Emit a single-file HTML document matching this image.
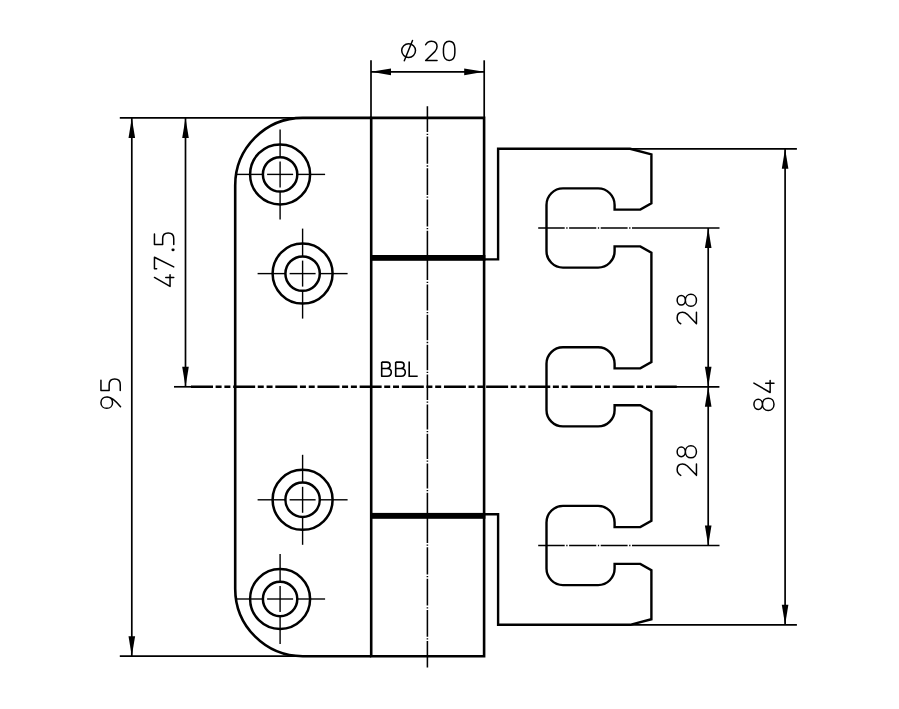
<!DOCTYPE html>
<html><head><meta charset="utf-8"><title>Hinge drawing</title>
<style>
html,body{margin:0;padding:0;background:#fff;}
body{width:899px;height:709px;overflow:hidden;font-family:"Liberation Sans",sans-serif;}
svg{display:block;}
</style></head><body>
<svg width="899" height="709" viewBox="0 0 899 709" fill="none" stroke="#000">
<rect x="0" y="0" width="899" height="709" fill="#fff" stroke="none"/>
<line x1="119.80" y1="117.90" x2="302.00" y2="117.90" stroke-width="1.7" />
<line x1="119.80" y1="656.20" x2="302.00" y2="656.20" stroke-width="1.7" />
<line x1="174.00" y1="386.80" x2="192.00" y2="386.80" stroke-width="1.7" />
<line x1="131.80" y1="117.90" x2="131.80" y2="656.20" stroke-width="1.7" />
<polygon points="131.80,117.90 135.10,137.90 128.50,137.90" fill="#000" stroke="none"/>
<polygon points="131.80,656.20 128.50,636.20 135.10,636.20" fill="#000" stroke="none"/>
<line x1="185.50" y1="117.90" x2="185.50" y2="386.80" stroke-width="1.7" />
<polygon points="185.50,117.90 188.80,137.90 182.20,137.90" fill="#000" stroke="none"/>
<polygon points="185.50,386.80 182.20,366.80 188.80,366.80" fill="#000" stroke="none"/>
<line x1="371.00" y1="60.30" x2="371.00" y2="117.90" stroke-width="1.7" />
<line x1="484.20" y1="60.30" x2="484.20" y2="117.90" stroke-width="1.7" />
<line x1="371.00" y1="71.85" x2="484.20" y2="71.85" stroke-width="1.7" />
<polygon points="371.00,71.85 391.00,68.55 391.00,75.15" fill="#000" stroke="none"/>
<polygon points="484.20,71.85 464.20,75.15 464.20,68.55" fill="#000" stroke="none"/>
<line x1="630.00" y1="148.80" x2="796.90" y2="148.80" stroke-width="1.7" />
<line x1="630.00" y1="624.80" x2="796.90" y2="624.80" stroke-width="1.7" />
<line x1="785.10" y1="148.80" x2="785.10" y2="624.80" stroke-width="1.7" />
<polygon points="785.10,148.80 788.40,168.80 781.80,168.80" fill="#000" stroke="none"/>
<polygon points="785.10,624.80 781.80,604.80 788.40,604.80" fill="#000" stroke="none"/>
<line x1="708.20" y1="228.00" x2="708.20" y2="545.50" stroke-width="1.7" />
<polygon points="708.20,228.00 711.50,248.00 704.90,248.00" fill="#000" stroke="none"/>
<polygon points="708.20,386.80 704.90,366.80 711.50,366.80" fill="#000" stroke="none"/>
<polygon points="708.20,386.80 711.50,406.80 704.90,406.80" fill="#000" stroke="none"/>
<polygon points="708.20,545.50 704.90,525.50 711.50,525.50" fill="#000" stroke="none"/>
<line x1="676.00" y1="386.80" x2="719.40" y2="386.80" stroke-width="1.7" />
<path d="M538.20,228.0 L564.70,228.0 M566.25,228.0 L567.55,228.0 M569.10,228.0 L596.30,228.0 M597.85,228.0 L599.15,228.0 M600.70,228.0 L627.60,228.0 M629.15,228.0 L630.45,228.0 M632.00,228.0 L719.50,228.0" stroke-width="1.7" />
<path d="M538.20,545.5 L564.70,545.5 M566.25,545.5 L567.55,545.5 M569.10,545.5 L596.30,545.5 M597.85,545.5 L599.15,545.5 M600.70,545.5 L627.60,545.5 M629.15,545.5 L630.45,545.5 M632.00,545.5 L719.50,545.5" stroke-width="1.7" />
<line x1="191.00" y1="386.80" x2="676.80" y2="386.80" stroke-width="2.5" stroke-dasharray="22 2.6 6 2.8 6 2.76"/>
<path d="M427.4,106.30 L427.4,132.10 M427.4,133.65 L427.4,134.95 M427.4,136.50 L427.4,163.80 M427.4,165.35 L427.4,166.65 M427.4,168.20 L427.4,195.00 M427.4,196.55 L427.4,197.85 M427.4,199.40 L427.4,226.40 M427.4,227.95 L427.4,229.25 M427.4,230.80 L427.4,280.10 M427.4,281.65 L427.4,282.95 M427.4,284.50 L427.4,310.40 M427.4,311.95 L427.4,313.25 M427.4,314.80 L427.4,340.30 M427.4,341.85 L427.4,343.15 M427.4,344.70 L427.4,370.20 M427.4,371.75 L427.4,373.05 M427.4,374.60 L427.4,400.00 M427.4,401.55 L427.4,402.85 M427.4,404.40 L427.4,429.40 M427.4,430.95 L427.4,432.25 M427.4,433.80 L427.4,459.00 M427.4,460.55 L427.4,461.85 M427.4,463.40 L427.4,488.40 M427.4,489.95 L427.4,491.25 M427.4,492.80 L427.4,542.90 M427.4,544.45 L427.4,545.75 M427.4,547.30 L427.4,574.40 M427.4,575.95 L427.4,577.25 M427.4,578.80 L427.4,605.60 M427.4,607.15 L427.4,608.45 M427.4,610.00 L427.4,636.70 M427.4,638.25 L427.4,639.55 M427.4,641.10 L427.4,667.50" stroke-width="1.55" />
<path d="M371.2,117.9 L302.7,117.9 A67.5,67.5 0 0 0 235.2,185.4 L235.2,588.7 A67.5,67.5 0 0 0 302.7,656.2 L371.2,656.2" stroke-width="2.6" />
<path d="M371.2,117.9 L484.1,117.9 L484.1,656.2 L371.2,656.2 Z" stroke-width="2.6" />
<rect x="370.0" y="255.0" width="115.40" height="5.8" fill="#000" stroke="none"/>
<rect x="370.0" y="512.9" width="115.40" height="5.9" fill="#000" stroke="none"/>
<path d="M484.1,259.4 L498.1,259.4 L498.1,148.8 L630.1,148.8 L651.4,154.4 L651.4,203.29999999999998 L640.3,209.6 L614.6,209.6 L614.6,204.9 A16.5,16.5 0 0 0 598.1,188.4 L563.0,188.4 A16.5,16.5 0 0 0 546.5,204.9 L546.5,251.10000000000002 A16.5,16.5 0 0 0 563.0,267.6 L598.1,267.6 A16.5,16.5 0 0 0 614.6,251.10000000000002 L614.6,246.4 L640.3,246.4 L651.4,252.70000000000002 L651.4,362.1 L640.3,368.40000000000003 L614.6,368.40000000000003 L614.6,363.7 A16.5,16.5 0 0 0 598.1,347.2 L563.0,347.2 A16.5,16.5 0 0 0 546.5,363.7 L546.5,409.90000000000003 A16.5,16.5 0 0 0 563.0,426.40000000000003 L598.1,426.40000000000003 A16.5,16.5 0 0 0 614.6,409.90000000000003 L614.6,405.2 L640.3,405.2 L651.4,411.5 L651.4,520.8000000000001 L640.3,527.1 L614.6,527.1 L614.6,522.4 A16.5,16.5 0 0 0 598.1,505.9 L563.0,505.9 A16.5,16.5 0 0 0 546.5,522.4 L546.5,568.6 A16.5,16.5 0 0 0 563.0,585.1 L598.1,585.1 A16.5,16.5 0 0 0 614.6,568.6 L614.6,563.9 L640.3,563.9 L651.4,570.1999999999999 L651.4,619.1999999999999 L630.1,624.8 L498.1,624.8 L498.1,514.3 L484.1,514.3" stroke-width="2.4" stroke-linejoin="miter"/>
<circle cx="280.1" cy="174.4" r="30.0" stroke-width="2.5"/>
<circle cx="280.1" cy="174.4" r="17.2" stroke-width="2.5"/>
<line x1="235.10" y1="174.40" x2="262.60" y2="174.40" stroke-width="1.4" />
<line x1="280.10" y1="129.40" x2="280.10" y2="156.90" stroke-width="1.4" />
<line x1="267.10" y1="174.40" x2="293.10" y2="174.40" stroke-width="1.4" />
<line x1="280.10" y1="161.40" x2="280.10" y2="187.40" stroke-width="1.4" />
<line x1="297.60" y1="174.40" x2="325.10" y2="174.40" stroke-width="1.4" />
<line x1="280.10" y1="191.90" x2="280.10" y2="219.40" stroke-width="1.4" />
<circle cx="302.6" cy="273.6" r="30.0" stroke-width="2.5"/>
<circle cx="302.6" cy="273.6" r="17.2" stroke-width="2.5"/>
<line x1="257.60" y1="273.60" x2="285.10" y2="273.60" stroke-width="1.4" />
<line x1="302.60" y1="228.60" x2="302.60" y2="256.10" stroke-width="1.4" />
<line x1="289.60" y1="273.60" x2="315.60" y2="273.60" stroke-width="1.4" />
<line x1="302.60" y1="260.60" x2="302.60" y2="286.60" stroke-width="1.4" />
<line x1="320.10" y1="273.60" x2="347.60" y2="273.60" stroke-width="1.4" />
<line x1="302.60" y1="291.10" x2="302.60" y2="318.60" stroke-width="1.4" />
<circle cx="302.6" cy="499.8" r="30.0" stroke-width="2.5"/>
<circle cx="302.6" cy="499.8" r="17.2" stroke-width="2.5"/>
<line x1="257.60" y1="499.80" x2="285.10" y2="499.80" stroke-width="1.4" />
<line x1="302.60" y1="454.80" x2="302.60" y2="482.30" stroke-width="1.4" />
<line x1="289.60" y1="499.80" x2="315.60" y2="499.80" stroke-width="1.4" />
<line x1="302.60" y1="486.80" x2="302.60" y2="512.80" stroke-width="1.4" />
<line x1="320.10" y1="499.80" x2="347.60" y2="499.80" stroke-width="1.4" />
<line x1="302.60" y1="517.30" x2="302.60" y2="544.80" stroke-width="1.4" />
<circle cx="280.1" cy="599.0" r="30.0" stroke-width="2.5"/>
<circle cx="280.1" cy="599.0" r="17.2" stroke-width="2.5"/>
<line x1="235.10" y1="599.00" x2="262.60" y2="599.00" stroke-width="1.4" />
<line x1="280.10" y1="554.00" x2="280.10" y2="581.50" stroke-width="1.4" />
<line x1="267.10" y1="599.00" x2="293.10" y2="599.00" stroke-width="1.4" />
<line x1="280.10" y1="586.00" x2="280.10" y2="612.00" stroke-width="1.4" />
<line x1="297.60" y1="599.00" x2="325.10" y2="599.00" stroke-width="1.4" />
<line x1="280.10" y1="616.50" x2="280.10" y2="644.00" stroke-width="1.4" />
<circle cx="408.6" cy="50.6" r="6.9" stroke-width="1.5"/>
<line x1="404.30" y1="60.70" x2="412.50" y2="40.50" stroke-width="1.5" stroke-linecap="round"/>
<path d="M0,3.6 C1.2,1.2 3.2,0 5.8,0 C9.2,0 11.4,2.2 11.4,5.4 C11.4,7.4 10.6,8.8 9.4,10.2 L0,19.3 L11.4,19.3" transform="translate(425.65,41.15)" stroke-width="1.5" stroke-linecap="round" stroke-linejoin="round"/>
<path d="M0,7.6 C0,2.9 2.2,0 5.7,0 C9.2,0 11.4,2.9 11.4,7.6 L11.4,11.7 C11.4,16.4 9.2,19.3 5.7,19.3 C2.2,19.3 0,16.4 0,11.7 Z" transform="translate(443.45,41.15)" stroke-width="1.5" stroke-linecap="round" stroke-linejoin="round"/>
<path d="M9.0,0 L0,15.6 L11.6,15.6 M9.0,11.3 L9.0,19.3" transform="translate(173.75,286.45) rotate(-90) scale(1.0) translate(0,-19.3)" stroke-width="1.500" stroke-linecap="round" stroke-linejoin="round"/>
<path d="M0,2.2 L0,0 L11.4,0 L1.7,19.3" transform="translate(173.75,268.65) rotate(-90) scale(1.0) translate(0,-19.3)" stroke-width="1.500" stroke-linecap="round" stroke-linejoin="round"/>
<path d="M1.0,18.3 L1.0,18.9" transform="translate(173.75,250.85) rotate(-90) scale(1.0) translate(0,-19.3)" stroke-width="2.600" stroke-linecap="round" stroke-linejoin="round"/>
<path d="M10.4,0 L0,0 L0,8.2 L5.8,8.2 C9.3,8.2 11.5,10.5 11.5,13.75 C11.5,17 9.3,19.3 5.8,19.3 L0,19.3" transform="translate(173.75,244.45) rotate(-90) scale(1.0) translate(0,-19.3)" stroke-width="1.500" stroke-linecap="round" stroke-linejoin="round"/>
<path d="M11.4,5.8 C11.4,9.1 9.0,11.6 5.7,11.6 C2.4,11.6 0,9.1 0,5.8 C0,2.5 2.4,0 5.7,0 C9.0,0 11.4,2.5 11.4,5.8 L11.4,6.8 C11.4,10.8 7,15.2 1.6,19.6" transform="translate(120.25,408.35) rotate(-90) scale(1.0) translate(0,-19.3)" stroke-width="1.500" stroke-linecap="round" stroke-linejoin="round"/>
<path d="M10.4,0 L0,0 L0,8.2 L5.8,8.2 C9.3,8.2 11.5,10.5 11.5,13.75 C11.5,17 9.3,19.3 5.8,19.3 L0,19.3" transform="translate(120.25,390.55) rotate(-90) scale(1.0) translate(0,-19.3)" stroke-width="1.500" stroke-linecap="round" stroke-linejoin="round"/>
<path d="M0,3.6 C1.2,1.2 3.2,0 5.8,0 C9.2,0 11.4,2.2 11.4,5.4 C11.4,7.4 10.6,8.8 9.4,10.2 L0,19.3 L11.4,19.3" transform="translate(696.45,323.75) rotate(-90) scale(1.0) translate(0,-19.3)" stroke-width="1.500" stroke-linecap="round" stroke-linejoin="round"/>
<path d="M5.7,8.2 C2.9,8.2 0.85,6.4 0.85,4.1 C0.85,1.8 2.9,0 5.7,0 C8.5,0 10.55,1.8 10.55,4.1 C10.55,6.4 8.5,8.2 5.7,8.2 C9.2,8.2 11.7,10.6 11.7,13.75 C11.7,16.9 9.2,19.3 5.7,19.3 C2.2,19.3 -0.3,16.9 -0.3,13.75 C-0.3,10.6 2.2,8.2 5.7,8.2 Z" transform="translate(696.45,305.95) rotate(-90) scale(1.0) translate(0,-19.3)" stroke-width="1.500" stroke-linecap="round" stroke-linejoin="round"/>
<path d="M0,3.6 C1.2,1.2 3.2,0 5.8,0 C9.2,0 11.4,2.2 11.4,5.4 C11.4,7.4 10.6,8.8 9.4,10.2 L0,19.3 L11.4,19.3" transform="translate(696.45,475.35) rotate(-90) scale(1.0) translate(0,-19.3)" stroke-width="1.500" stroke-linecap="round" stroke-linejoin="round"/>
<path d="M5.7,8.2 C2.9,8.2 0.85,6.4 0.85,4.1 C0.85,1.8 2.9,0 5.7,0 C8.5,0 10.55,1.8 10.55,4.1 C10.55,6.4 8.5,8.2 5.7,8.2 C9.2,8.2 11.7,10.6 11.7,13.75 C11.7,16.9 9.2,19.3 5.7,19.3 C2.2,19.3 -0.3,16.9 -0.3,13.75 C-0.3,10.6 2.2,8.2 5.7,8.2 Z" transform="translate(696.45,457.55) rotate(-90) scale(1.0) translate(0,-19.3)" stroke-width="1.500" stroke-linecap="round" stroke-linejoin="round"/>
<path d="M5.7,8.2 C2.9,8.2 0.85,6.4 0.85,4.1 C0.85,1.8 2.9,0 5.7,0 C8.5,0 10.55,1.8 10.55,4.1 C10.55,6.4 8.5,8.2 5.7,8.2 C9.2,8.2 11.7,10.6 11.7,13.75 C11.7,16.9 9.2,19.3 5.7,19.3 C2.2,19.3 -0.3,16.9 -0.3,13.75 C-0.3,10.6 2.2,8.2 5.7,8.2 Z" transform="translate(774.00,410.30) rotate(-90) scale(1.04) translate(0,-19.3)" stroke-width="1.442" stroke-linecap="round" stroke-linejoin="round"/>
<path d="M9.0,0 L0,15.6 L11.6,15.6 M9.0,11.3 L9.0,19.3" transform="translate(774.00,392.50) rotate(-90) scale(1.04) translate(0,-19.3)" stroke-width="1.442" stroke-linecap="round" stroke-linejoin="round"/>
<path d="M381.7,362.1 L381.7,376.2 L387.2,376.2 C389.8,376.2 391.3,374.7 391.3,372.3 C391.3,369.9 389.8,368.5 387.2,368.5 L381.7,368.5 M386.8,368.5 C388.9,368.5 390.1,367.2 390.1,365.3 C390.1,363.4 388.9,362.1 386.8,362.1 L381.7,362.1" stroke-width="1.6" stroke-linejoin="round"/>
<path d="M381.7,362.1 L381.7,376.2 L387.2,376.2 C389.8,376.2 391.3,374.7 391.3,372.3 C391.3,369.9 389.8,368.5 387.2,368.5 L381.7,368.5 M386.8,368.5 C388.9,368.5 390.1,367.2 390.1,365.3 C390.1,363.4 388.9,362.1 386.8,362.1 L381.7,362.1" transform="translate(14.0,0)" stroke-width="1.6" stroke-linejoin="round"/>
<path d="M409.2,361.4 L409.2,376.2 L417.7,376.2" stroke-width="1.6"/>
</svg>
</body></html>
